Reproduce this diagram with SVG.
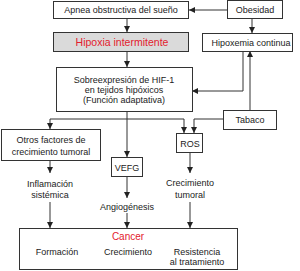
<svg xmlns="http://www.w3.org/2000/svg" width="300" height="271" viewBox="0 0 300 271">
<defs>
<marker id="ah" markerUnits="userSpaceOnUse" markerWidth="6" markerHeight="6" viewBox="0 0 6 6" refX="6" refY="3" orient="auto">
<path d="M0,0 L6,3 L0,6 Z" fill="#222"/>
</marker>
<style>
.box{fill:#fff;stroke:#333;stroke-width:1}
.t{font-family:"Liberation Sans",Arial,sans-serif;font-size:9px;fill:#222;text-anchor:middle}
.red{fill:#e3202d}
.c{fill:none;stroke:#333;stroke-width:1;marker-end:url(#ah)}
.l{fill:none;stroke:#333;stroke-width:1}
</style>
</defs>
<rect width="300" height="271" fill="#fff"/>
<g id="connectors">
<path class="c" d="M227,10 H189"/>
<path class="c" d="M252,19 V33"/>
<path class="c" d="M127,18 V32"/>
<path class="c" d="M127,52 V67"/>
<path class="c" d="M243,51 V91 H192"/>
<path class="c" d="M250,110 V51"/>
<path class="c" d="M223,119 H194 V133"/>
<path class="l" d="M50,119 H184"/>
<path class="c" d="M127,112 V157"/>
<path class="c" d="M50,119 V129"/>
<path class="c" d="M184,119 V133"/>
<path class="c" d="M50,160 V173"/>
<path class="c" d="M190,153 V173"/>
<path class="c" d="M127,177 V198"/>
<path class="c" d="M50,202 V228"/>
<path class="c" d="M127,213 V228"/>
<path class="c" d="M190,202 V228"/>
</g>
<g id="apnea"><rect class="box" x="53.5" y="1.5" width="135" height="17"/><text class="t" x="121" y="13">Apnea obstructiva del sueño</text></g>
<g id="obesidad"><rect class="box" x="227.5" y="0.5" width="55" height="18"/><text class="t" x="255" y="13">Obesidad</text></g>
<g id="hipoxia"><rect x="53.5" y="32.5" width="135" height="19" fill="#dadada" stroke="#333"/><text class="t red" x="122" y="45.5" style="font-size:10.5px">Hipoxia intermitente</text></g>
<g id="hipoxemia"><rect class="box" x="202.5" y="33.5" width="90" height="18"/><text class="t" x="251" y="45.5">Hipoxemia continua</text></g>
<g id="hif"><rect class="box" x="56.5" y="67.5" width="136" height="44"/><text class="t" x="124" y="82.5">Sobreexpresión de HIF-1</text><text class="t" x="124" y="92.5">en tejidos hipóxicos</text><text class="t" x="124" y="102.5">(Función adaptativa)</text></g>
<g id="tabaco"><rect class="box" x="223.5" y="110.5" width="53" height="19"/><text class="t" x="250" y="123">Tabaco</text></g>
<g id="otros"><rect class="box" x="1.5" y="129.5" width="99" height="31"/><text class="t" x="51" y="143">Otros factores de</text><text class="t" x="51" y="154.5">crecimiento tumoral</text></g>
<g id="ros"><rect class="box" x="176.5" y="133.5" width="26" height="19"/><text class="t" x="190" y="146.5">ROS</text></g>
<g id="vefg"><rect class="box" x="111.5" y="157.5" width="31" height="19"/><text class="t" x="127" y="170.5">VEFG</text></g>
<g id="inflamacion"><text class="t" x="50" y="186.5">Inflamación</text><text class="t" x="50" y="197.5">sistémica</text></g>
<g id="angiogenesis"><text class="t" x="127" y="209.5">Angiogénesis</text></g>
<g id="crecimiento-tumoral"><text class="t" x="190" y="186">Crecimiento</text><text class="t" x="190" y="197.5">tumoral</text></g>
<g id="cancer"><rect class="box" x="19.5" y="228.5" width="218" height="41"/><text class="t red" x="128" y="239.5" style="font-size:10px">Cancer</text><text class="t" x="57" y="254.5">Formación</text><text class="t" x="128" y="254.5">Crecimiento</text><text class="t" x="197" y="254.5">Resistencia</text><text class="t" x="197" y="265">al tratamiento</text></g>
</svg>
